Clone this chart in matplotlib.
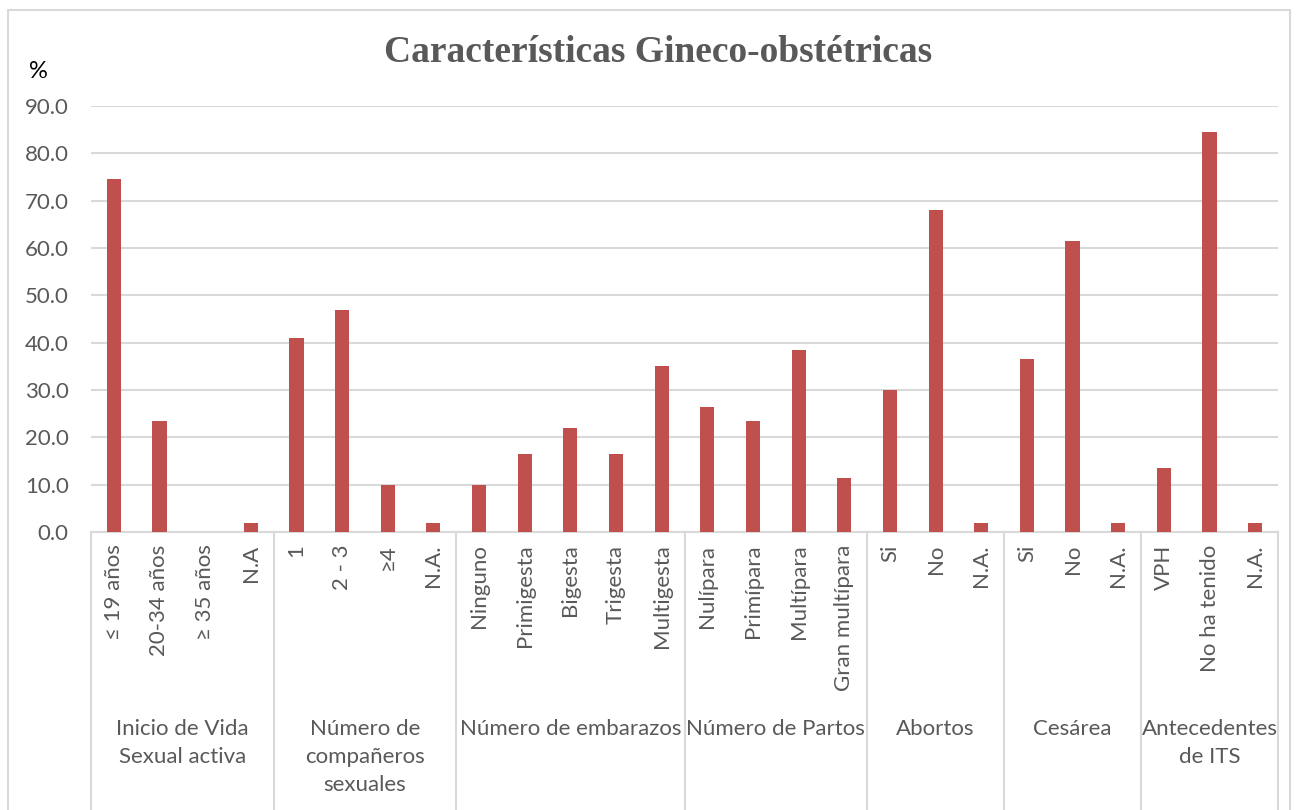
import numpy as np
import matplotlib
matplotlib.use("Agg")
from matplotlib import pyplot as plt
from matplotlib.patches import Rectangle
import matplotlib.transforms as mtransforms

plt.rcParams['font.family'] = ['Lato', 'DejaVu Sans']

groups = ['Inicio de Vida\nSexual activa', 'Número de\ncompañeros\nsexuales',
          'Número de embarazos', 'Número de Partos', 'Abortos', 'Cesárea',
          'Antecedentes\nde ITS']
group_sizes = [4, 4, 5, 4, 3, 3, 3]
labels = ['≤ 19 años', '20-34 años', '≥ 35 años', 'N.A',
          '1', '2 - 3', '≥4', 'N.A.',
          'Ninguno', 'Primigesta', 'Bigesta', 'Trigesta', 'Multigesta',
          'Nulípara', 'Primípara', 'Multípara', 'Gran multípara',
          'Si', 'No', 'N.A.',
          'Si', 'No', 'N.A.',
          'VPH', 'No ha tenido', 'N.A.']
values = [74.5, 23.5, 0.0, 2.0,
          41.0, 47.0, 10.0, 2.0,
          10.0, 16.5, 22.0, 16.5, 35.0,
          26.5, 23.5, 38.5, 11.5,
          30.0, 68.0, 2.0,
          36.5, 61.5, 2.0,
          13.5, 84.5, 2.0]

grey = '#595959'
gridc = '#D9D9D9'
fs = 16

fig = plt.figure(figsize=(12.96, 8.1), dpi=100)
ax = fig.add_axes([91/1296, 1-532/810, (1278-91)/1296, (532-106)/810])

x = np.arange(len(values))
ax.bar(x, values, width=0.31, color='#C0504D', zorder=3)

ax.set_xlim(-0.5, len(values)-0.5)
ax.set_ylim(0, 90)
ax.set_yticks(np.arange(0, 91, 10))
ax.set_yticklabels(['%.1f' % v for v in np.arange(0, 91, 10)], fontsize=fs, color=grey)
ax.set_xticks(x)
ax.set_xticklabels(labels, rotation=90, fontsize=fs, color=grey, va='top', ha='center')
ax.tick_params(axis='x', length=0, pad=9)
ax.tick_params(axis='y', length=0, pad=16)
ax.yaxis.grid(True, color=gridc, linewidth=1.5, zorder=0)
for s in ['left', 'right', 'top']:
    ax.spines[s].set_visible(False)
ax.spines['bottom'].set_color(gridc)
ax.spines['bottom'].set_linewidth(1.5)

# group separators and labels
trans = mtransforms.blended_transform_factory(ax.transData, ax.transAxes)
edges = np.concatenate([[0], np.cumsum(group_sizes)]) - 0.5
for e in edges:
    ax.plot([e, e], [0, -0.66], color=gridc, linewidth=1.5, transform=trans, clip_on=False)
for i, g in enumerate(groups):
    cx = (edges[i] + edges[i+1]) / 2
    ax.text(cx, -0.438, g, transform=trans, ha='center', va='top', fontsize=fs,
            color=grey, linespacing=1.5)

fig.text(658/1296, 1-53/810, 'Características Gineco-obstétricas', ha='center', va='center',
         fontsize=27, fontweight='bold', color=grey, family='Liberation Serif')
fig.text(38/1296, 1-72/810, '%', ha='center', va='center', fontsize=17, color='black')

fig.patches.append(Rectangle((8/1296, -0.05), (1290-8)/1296, 1-10/810+0.05,
                             transform=fig.transFigure, fill=False, edgecolor=gridc,
                             linewidth=1.5))

fig.savefig('out.png', dpi=100)
